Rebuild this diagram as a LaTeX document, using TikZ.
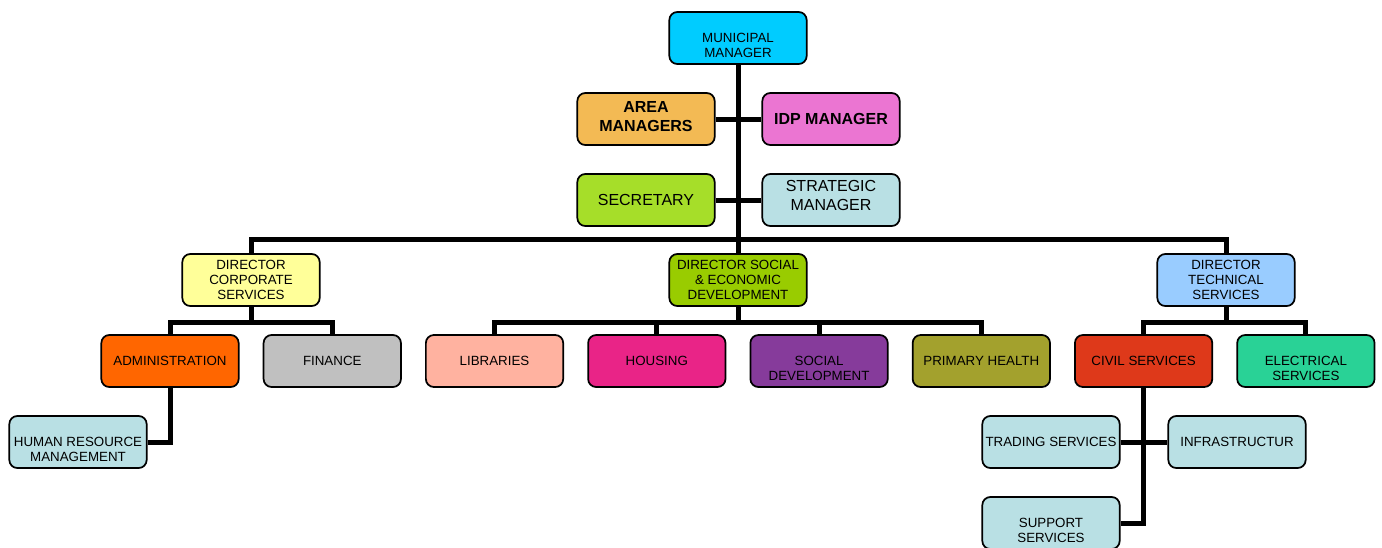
\documentclass[tikz,border=0pt]{standalone}
\usepackage{fontspec}
\setmainfont{Liberation Sans}
\usepackage{tikz}
\usetikzlibrary{calc}
\pgfdeclarelayer{background}
\pgfsetlayers{background,main}

\definecolor{mmcyan}{RGB}{0,204,255}
\definecolor{areaorange}{RGB}{243,186,84}
\definecolor{idppink}{RGB}{235,117,210}
\definecolor{seclime}{RGB}{166,222,41}
\definecolor{paleblue}{RGB}{185,224,228}
\definecolor{csyellow}{RGB}{255,255,153}
\definecolor{sedgreen}{RGB}{153,204,0}
\definecolor{tsblue}{RGB}{153,204,255}
\definecolor{adminorange}{RGB}{255,102,0}
\definecolor{fingrey}{RGB}{192,192,192}
\definecolor{libsalmon}{RGB}{255,178,160}
\definecolor{housmagenta}{RGB}{233,36,135}
\definecolor{socpurple}{RGB}{134,59,155}
\definecolor{healtholive}{RGB}{163,161,45}
\definecolor{civilred}{RGB}{222,57,26}
\definecolor{elecgreen}{RGB}{41,210,150}

% invisible struts to push two-line labels down / up inside their boxes
\newcommand{\padtop}{\rule{0pt}{18pt}}
\newcommand{\padbottom}[1]{\rule[-#1]{0pt}{0pt}}

\tikzstyle{unit}    = [rectangle, rounded corners=6pt, minimum width=103pt, minimum height=39pt, inner sep=1pt, align=center, draw=black, line width=1.3pt, font=\fontsize{10}{11.25}\selectfont]
\tikzstyle{bigunit} = [unit, font=\fontsize{12}{14.25}\selectfont]
\tikzstyle{boldunit}= [unit, font=\fontsize{12}{14.25}\selectfont\bfseries]
\tikzstyle{link}    = [line width=3.75pt]

\begin{document}
\begin{tikzpicture}[x=0.75pt, y=-0.75pt, node distance=121.7pt]
    \useasboundingbox (0,0) rectangle (1382,547);

    % top of the tree
    \node (mm)    [unit, fill=mmcyan]        at (738,38)  {\padtop MUNICIPAL\\MANAGER};
    \node (area)  [boldunit, fill=areaorange] at (646,119) {AREA\\MANAGERS\padbottom{4.5pt}};
    \node (idp)   [boldunit, fill=idppink]    at (831,119) {IDP MANAGER};
    \node (sec)   [bigunit, fill=seclime]     at (646,200) {SECRETARY};
    \node (strat) [bigunit, fill=paleblue]    at (831,200) {STRATEGIC\\MANAGER\padbottom{7.5pt}};

    % directors
    \node (dcs)  [unit, fill=csyellow] at (251,280)  {DIRECTOR\\CORPORATE\\SERVICES};
    \node (dsed) [unit, fill=sedgreen] at (738,280)  {DIRECTOR SOCIAL\\\& ECONOMIC\\DEVELOPMENT};
    \node (dts)  [unit, fill=tsblue]   at (1226,280) {DIRECTOR\\TECHNICAL\\SERVICES};

    % departments
    \node (admin)  [unit, fill=adminorange]                  at (170,361) {ADMINISTRATION};
    \node (fin)    [unit, fill=fingrey, right of=admin]      {FINANCE};
    \node (lib)    [unit, fill=libsalmon, right of=fin]      {LIBRARIES};
    \node (hous)   [unit, fill=housmagenta, right of=lib]    {HOUSING};
    \node (socdev) [unit, fill=socpurple, right of=hous]     {\padtop SOCIAL\\DEVELOPMENT};
    \node (health) [unit, fill=healtholive, right of=socdev] {PRIMARY HEALTH};
    \node (civil)  [unit, fill=civilred, right of=health]    {CIVIL SERVICES};
    \node (elec)   [unit, fill=elecgreen, right of=civil]    {\padtop ELECTRICAL\\SERVICES};

    % sections
    \node (hr)      [unit, fill=paleblue] at (78,442)   {\padtop HUMAN RESOURCE\\MANAGEMENT};
    \node (trade)   [unit, fill=paleblue] at (1051,442) {TRADING SERVICES};
    \node (infra)   [unit, fill=paleblue] at (1237,442) {INFRASTRUCTUR};
    \node (support) [unit, fill=paleblue] at (1051,523) {\padtop SUPPORT\\SERVICES};

    \coordinate (topbus) at (738,239);
    \coordinate (csbus)  at (251,322);
    \coordinate (sedbus) at (738,322);
    \coordinate (tsbus)  at (1226,322);

    \begin{pgfonlayer}{background}
        \draw [link] (mm) -- (dsed);
        \draw [link] (area) -- (idp);
        \draw [link] (sec) -- (strat);
        \draw [link] (dcs) |- (topbus) -| (dts);

        \draw [link] (dcs) -- (csbus);
        \draw [link] (admin) |- (csbus) -| (fin);
        \draw [link] (dsed) -- (sedbus);
        \draw [link] (lib) |- (sedbus) -| (health);
        \draw [link] (hous) -- (hous |- sedbus);
        \draw [link] (socdev) -- (socdev |- sedbus);
        \draw [link] (dts) -- (tsbus);
        \draw [link] (civil) |- (tsbus) -| (elec);

        \draw [link] (admin) |- (hr);
        \draw [link] (trade) -- (infra);
        \draw [link] (civil) |- (support);
    \end{pgfonlayer}
\end{tikzpicture}
\end{document}
